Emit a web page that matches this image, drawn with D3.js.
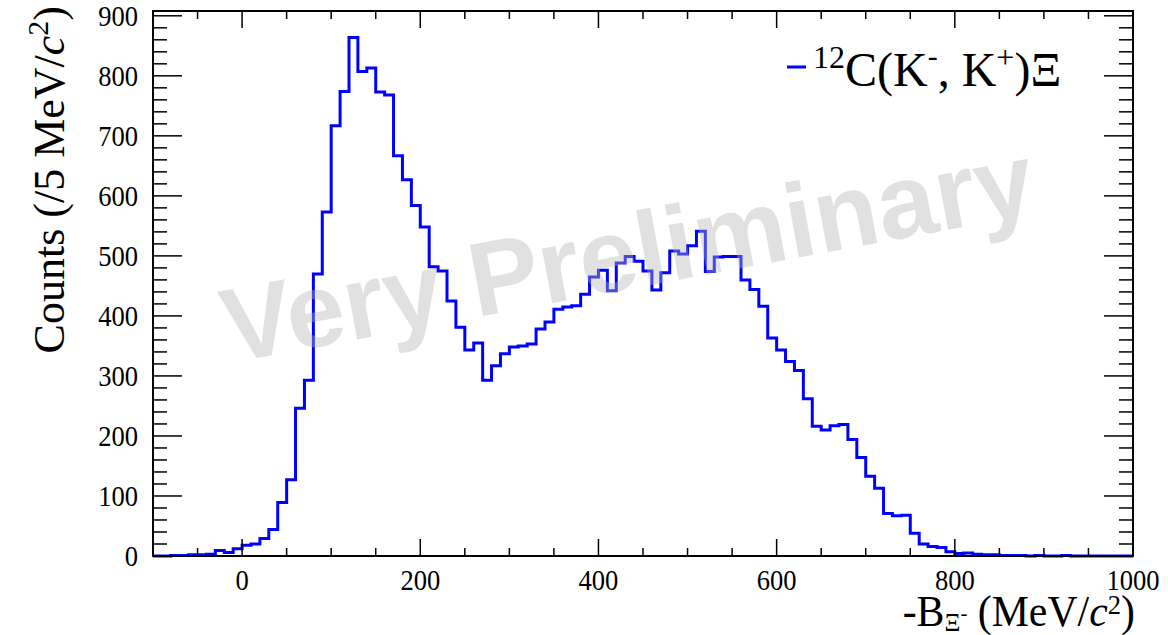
<!DOCTYPE html>
<html><head><meta charset="utf-8">
<script src="https://cdn.jsdelivr.net/npm/d3@7"></script>
<style>body{margin:0;background:#fff}svg{display:block}</style>
</head><body><svg id="c" width="1168" height="635"></svg>
<script>
// ---- data ----
const binStart = -100;
const binWidth = 10;
const counts = [
  0, 0, 1, 1, 2, 2, 3, 9, 6, 12,            // -100 .. -10
  18, 20, 29, 44, 89, 127, 246, 293, 470, 573, // 0 .. 90
  717, 774, 864, 807, 813, 773, 768, 667, 627, 584, // 100 .. 190
  548, 482, 475, 425, 381, 343, 355, 293, 317, 337, // 200 .. 290
  348, 350, 353, 378, 390, 411, 415, 417, 436, 465, // 300 .. 390
  476, 442, 488, 499, 491, 475, 443, 472, 508, 503, // 400 .. 490
  517, 541, 474, 498, 499, 499, 460, 444, 416, 363, // 500 .. 590
  343, 324, 309, 262, 216, 210, 217, 219, 194, 164, // 600 .. 690
  133, 113, 71, 67, 68, 38, 20, 16, 14, 7,          // 700 .. 790
  4, 5, 3, 2, 2, 1, 1, 1, 0, 1,                     // 800 .. 890
  0, 0, 1, 0, 0, 0, 0, 0, 0, 0                      // 900 .. 990
];
const xDomain = [-100, 1000];
const yMax = 908;
const xMajorTicks = [0, 200, 400, 600, 800, 1000];
const xMinorTicks = [-100, -50, 0, 50, 100, 150, 200, 250, 300, 350, 400, 450, 500, 550, 600, 650, 700, 750, 800, 850, 900, 950, 1000];
const yMajorTicks = [0, 100, 200, 300, 400, 500, 600, 700, 800, 900];
const yMinorTicks = d3.range(0, 901, 20);

// ---- layout ----
const L = 153, R = 1133, T = 11, B = 556;
const svg = d3.select("#c");
const x = d3.scaleLinear().domain(xDomain).range([L, R]);
const y = d3.scaleLinear().domain([0, yMax]).range([B, T]);
const serif = "'Liberation Serif','Times New Roman',serif";
const SX = 0.9; // horizontal squeeze of text

// histogram
const pts = counts.map((c, i) => [binStart + i * binWidth, c]);
pts.push([binStart + counts.length * binWidth, counts[counts.length - 1]]);
const line = d3.line().x(d => x(d[0])).y(d => y(d[1])).curve(d3.curveStepAfter);
svg.append("path").attr("d", line(pts)).attr("fill", "none")
  .attr("stroke", "#0000ff").attr("stroke-width", 3).attr("stroke-linejoin", "miter");

// frame
svg.append("rect").attr("x", L).attr("y", T).attr("width", R - L).attr("height", B - T)
  .attr("fill", "none").attr("stroke", "#000").attr("stroke-width", 2);

// ticks (inward, mirrored)
const tk = svg.append("g").attr("stroke", "#000").attr("stroke-width", 1.5);
xMinorTicks.forEach(v => {
  const len = xMajorTicks.includes(v) ? 17 : 8;
  tk.append("line").attr("x1", x(v)).attr("x2", x(v)).attr("y1", B).attr("y2", B - len);
  tk.append("line").attr("x1", x(v)).attr("x2", x(v)).attr("y1", T).attr("y2", T + len);
});
yMinorTicks.forEach(v => {
  const len = yMajorTicks.includes(v) ? 29 : 14;
  tk.append("line").attr("x1", L).attr("x2", L + len).attr("y1", y(v)).attr("y2", y(v));
  tk.append("line").attr("x1", R).attr("x2", R - len).attr("y1", y(v)).attr("y2", y(v));
});

const fmt = d3.format("d");
function sText(px, py, anchor, size, transformExtra) {
  return svg.append("text")
    .attr("transform", `translate(${px},${py}) ${transformExtra || `scale(${SX},1)`}`)
    .attr("text-anchor", anchor).attr("font-family", serif).attr("font-size", size).attr("fill", "#000");
}
xMajorTicks.forEach(v => sText(x(v), 590, "middle", 29.5).text(fmt(v)));
yMajorTicks.forEach(v => sText(138, y(v) + 10, "end", 29.5).text(fmt(v)));

// y title
const yt = sText(64, 6, "end", 44, "rotate(-90)");
yt.append("tspan").text("Counts (/5 MeV/");
yt.append("tspan").attr("font-style", "italic").text("c");
yt.append("tspan").attr("font-size", 30).attr("dy", -16).text("2");
yt.append("tspan").attr("dy", 16).text(")");

// x title
const xt = sText(1135, 626, "end", 44, "scale(0.95,1)");
xt.append("tspan").text("-B");
xt.append("tspan").attr("font-size", 26).attr("dy", 5).text("Ξ");
xt.append("tspan").attr("font-size", 22).attr("dy", -11).text("-");
xt.append("tspan").attr("dy", 6).text(" (MeV/");
xt.append("tspan").attr("font-style", "italic").text("c");
xt.append("tspan").attr("font-size", 28).attr("dy", -12).text("2");
xt.append("tspan").attr("dy", 12).text(")");

// legend
svg.append("line").attr("x1", 787).attr("x2", 806).attr("y1", 67).attr("y2", 67)
  .attr("stroke", "#0000ff").attr("stroke-width", 3);
const lg = sText(813, 86, "start", 48, "scale(1,1)");
lg.append("tspan").attr("font-size", 32).attr("dy", -18).text("12");
lg.append("tspan").attr("dy", 18).text("C(K");
lg.append("tspan").attr("font-size", 30).attr("dy", -20).text("-");
lg.append("tspan").attr("dy", 20).text(", K");
lg.append("tspan").attr("font-size", 32).attr("dy", -18).text("+");
lg.append("tspan").attr("dy", 18).text(")Ξ");

// watermark
svg.append("text").attr("transform", "translate(634,288) rotate(-10.5)")
  .attr("text-anchor", "middle").attr("font-family", "'Liberation Sans',Arial,sans-serif")
  .attr("font-weight", "bold").attr("font-size", 105)
  .attr("fill", "#b4b4b4").attr("fill-opacity", 0.4).text("Very Preliminary");
</script></body></html>
